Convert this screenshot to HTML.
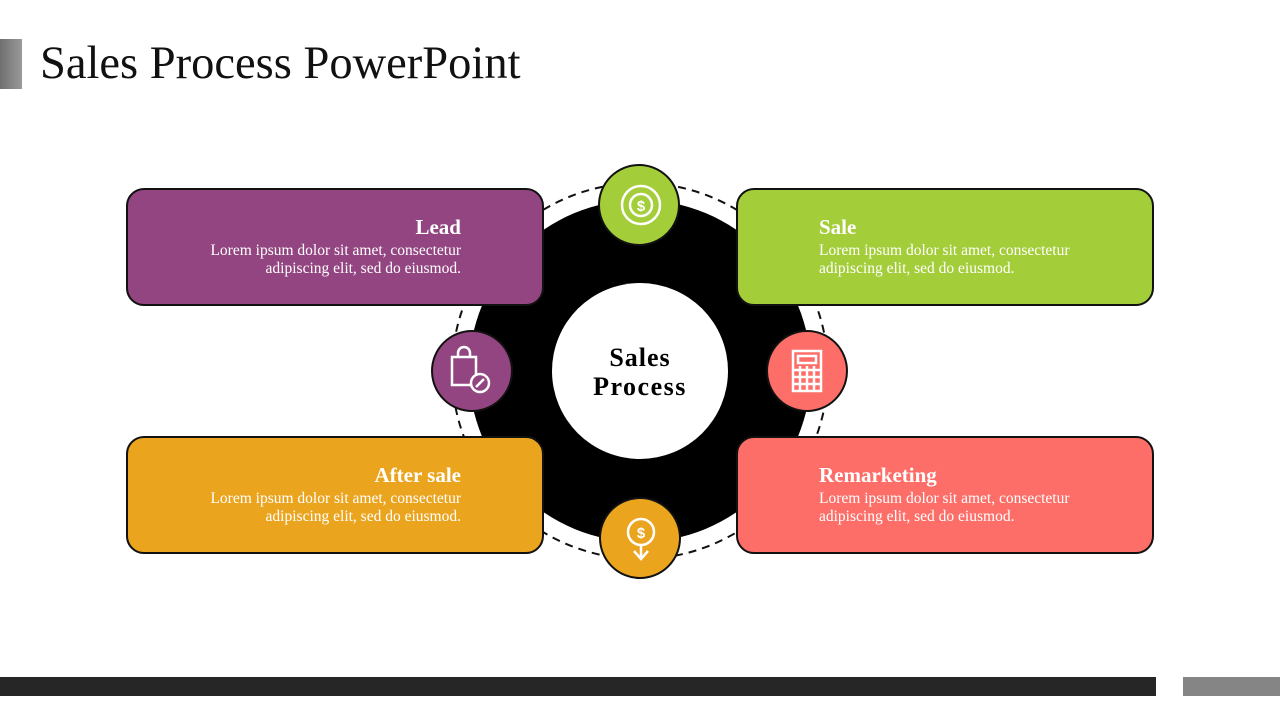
<!DOCTYPE html>
<html><head><meta charset="utf-8"><style>
body{margin:0;width:1280px;height:720px;position:relative;background:#fff;font-family:Georgia,"Liberation Serif",serif;overflow:hidden}
.box{position:absolute;width:414px;height:114px;border:2px solid #111;border-radius:18px;box-sizing:content-box;color:#fff}
.box h3{position:absolute;margin:0;top:25px;font-size:21px;font-weight:bold;white-space:nowrap}
.box p{position:absolute;margin:0;top:52px;font-size:15.5px;line-height:18px;font-weight:normal;white-space:nowrap}
.l h3,.l p{right:81px;text-align:right}
.r h3,.r p{left:81px;text-align:left}
</style></head><body>
<div style="position:absolute;left:0;top:39px;width:22px;height:50px;background:linear-gradient(90deg,#6f6f6f,#9a9a9a)"></div>
<div style="position:absolute;left:40px;top:37px;font-size:46.5px;color:#111;white-space:nowrap">Sales Process PowerPoint</div>
<div style="position:absolute;left:0;top:677px;width:1156px;height:19px;background:#262626"></div>
<div style="position:absolute;left:1183px;top:677px;width:97px;height:19px;background:#858585"></div>

<svg style="position:absolute;left:0;top:0" width="1280" height="720">
<circle cx="640" cy="371" r="188" fill="none" stroke="#111" stroke-width="2" stroke-dasharray="8,6"/>
<circle cx="640" cy="371" r="171" fill="#000"/>
<circle cx="640" cy="371" r="88" fill="#fff"/>
<text x="640" y="366" text-anchor="middle" font-family="Georgia,'Liberation Serif',serif" font-weight="bold" font-size="26" letter-spacing="1">Sales</text>
<text x="640" y="395" text-anchor="middle" font-family="Georgia,'Liberation Serif',serif" font-weight="bold" font-size="26" letter-spacing="1.5">Process</text>
</svg>

<div class="box l" style="left:126px;top:188px;background:#934581"><h3>Lead</h3><p>Lorem ipsum dolor sit amet, consectetur<br>adipiscing elit, sed do eiusmod.</p></div>
<div class="box r" style="left:736px;top:188px;background:#a3cd39"><h3>Sale</h3><p>Lorem ipsum dolor sit amet, consectetur<br>adipiscing elit, sed do eiusmod.</p></div>
<div class="box l" style="left:126px;top:436px;background:#eba41e"><h3>After sale</h3><p>Lorem ipsum dolor sit amet, consectetur<br>adipiscing elit, sed do eiusmod.</p></div>
<div class="box r" style="left:736px;top:436px;background:#fd6e68"><h3>Remarketing</h3><p>Lorem ipsum dolor sit amet, consectetur<br>adipiscing elit, sed do eiusmod.</p></div>

<svg style="position:absolute;left:0;top:0" width="1280" height="720">
<g stroke="#111" stroke-width="2">
<circle cx="639" cy="205" r="40" fill="#a3cd39"/>
<circle cx="472" cy="371" r="40" fill="#934581"/>
<circle cx="807" cy="371" r="40" fill="#fd6e68"/>
<circle cx="640" cy="538" r="40" fill="#eba41e"/>
</g>
<g fill="none" stroke="#fff" stroke-width="2.5">
<circle cx="641" cy="205" r="19"/><circle cx="641" cy="205" r="11"/>
<text x="641" y="211" text-anchor="middle" fill="#fff" stroke="none" font-size="15" font-weight="bold" font-family="Liberation Sans,sans-serif">$</text>
<path d="M452 357h24v28h-24z"/><path d="M458 357v-4a6 6 0 0 1 12 0v4"/>
<circle cx="480" cy="383" r="9" fill="#934581"/><path d="M476 387l8-8"/>
<rect x="793" y="351" width="28" height="40"/><rect x="798" y="356" width="18" height="7"/>
<path d="M793 370h28M793 377h28M793 384h28M800 366v25M807 366v25M814 366v25"/>
<circle cx="641" cy="532" r="13"/>
<text x="641" y="538" text-anchor="middle" fill="#fff" stroke="none" font-size="15" font-weight="bold" font-family="Liberation Sans,sans-serif">$</text>
<path d="M641 545v13M634 551l7 8 7-8"/>
</g>
</svg>
</body></html>
